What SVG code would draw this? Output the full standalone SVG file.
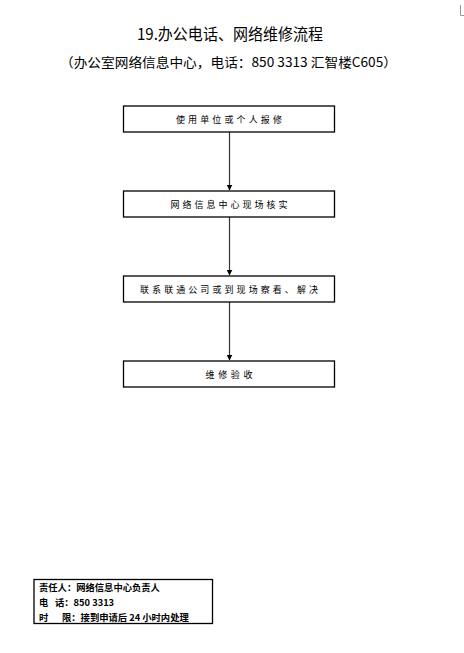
<svg xmlns="http://www.w3.org/2000/svg" width="464" height="653" viewBox="0 0 464 653">
<style>
.box{fill:#fff;stroke:#000;stroke-width:1.3}
.bt{font-family:"Noto Sans CJK SC","Noto Sans",sans-serif;font-size:9px;fill:#000;text-anchor:middle}
.ft{font-family:"Noto Sans CJK SC","Noto Sans",sans-serif;font-size:9.3px;font-weight:bold;fill:#000}
.ln{stroke:#333;stroke-width:1.2;fill:none}
</style>
<defs>
<marker id="ah" viewBox="0 0 10 10" refX="9" refY="5" markerWidth="6" markerHeight="6" markerUnits="userSpaceOnUse" orient="auto">
<path d="M0,0 L10,5 L0,10 z" fill="#000"/>
</marker>
</defs>
<rect width="464" height="653" fill="#fff"/>
<path d="M460.5,5 V15.5 H464" stroke="#999" stroke-width="1" fill="none"/>
<text x="230" y="40" font-family="Noto Sans CJK SC,Noto Sans,sans-serif" font-size="15.5" text-anchor="middle" textLength="186" lengthAdjust="spacingAndGlyphs">19.办公电话、网络维修流程</text>
<text x="228.5" y="67" font-family="Noto Sans CJK SC,Noto Sans,sans-serif" font-size="13" text-anchor="middle" textLength="337" lengthAdjust="spacingAndGlyphs">（办公室网络信息中心，电话：850 3313 汇智楼C605）</text>
<g id="connectors">
<line class="ln" x1="229.5" y1="132" x2="229.5" y2="190" marker-end="url(#ah)"/>
<line class="ln" x1="229.5" y1="217" x2="229.5" y2="275" marker-end="url(#ah)"/>
<line class="ln" x1="229.5" y1="302" x2="229.5" y2="360" marker-end="url(#ah)"/>
</g>
<g id="n1"><rect class="box" x="123.5" y="106" width="211" height="26"/><text class="bt" x="229" y="122.5" textLength="106" lengthAdjust="spacing">使用单位或个人报修</text></g>
<g id="n2"><rect class="box" x="123.5" y="191" width="211" height="26"/><text class="bt" x="229" y="207.5" textLength="117" lengthAdjust="spacing">网络信息中心现场核实</text></g>
<g id="n3"><rect class="box" x="123.5" y="276" width="211" height="26"/><text class="bt" x="229" y="292.5" textLength="178" lengthAdjust="spacing">联系联通公司或到现场察看、解决</text></g>
<g id="n4"><rect class="box" x="123.5" y="361" width="211" height="26"/><text class="bt" x="229" y="377.5" textLength="47" lengthAdjust="spacing">维修验收</text></g>
<g id="info">
<rect x="34" y="579.5" width="178.5" height="44" fill="#fff" stroke="#000" stroke-width="1.3"/>
<text class="ft" x="39" y="591">责任人：网络信息中心负责人</text>
<text class="ft" x="39" y="606">电</text><text class="ft" x="55" y="606">话：850 3313</text>
<text class="ft" x="39" y="620.5">时</text><text class="ft" x="62" y="620.5">限：接到申请后 24 小时内处理</text>
</g>
</svg>
